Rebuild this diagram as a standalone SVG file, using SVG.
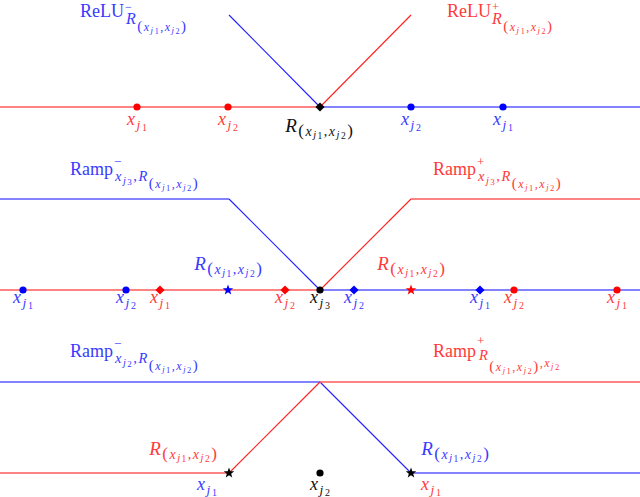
<svg xmlns="http://www.w3.org/2000/svg" xmlns:xlink="http://www.w3.org/1999/xlink" width="640" height="497" viewBox="0 0 640 497">
<style>
text{font-family:"Liberation Serif","Times New Roman",serif;font-size:18px}
.i{font-style:italic}
.s{letter-spacing:1.5px}
.b{fill:#3a3aff}
.r{fill:#ff3a3a}
.k{fill:#111}
.hb{stroke:#5a5aff;stroke-width:1.5;fill:none}
.hr{stroke:#ff5a5a;stroke-width:1.5;fill:none}
.db{stroke:#2020ff;stroke-width:1.1;fill:none}
.dr{stroke:#ff2020;stroke-width:1.1;fill:none}
</style>
<defs>
<circle id="dot" r="3.6"/>
<path id="dia" d="M0,-4.6 L4.6,0 0,4.6 -4.6,0Z"/>
<path id="star" d="M0,-5.5 L1.35,-1.86 5.23,-1.7 2.19,0.71 3.23,4.45 0,2.3 -3.23,4.45 -2.19,0.71 -5.23,-1.7 -1.35,-1.86Z"/>
</defs>
<g id="connectors">
<path class="hr" d="M0,107H320"/>
<path class="hb" d="M320,107H640"/>
<path class="db" d="M229,15L320,107"/>
<path class="dr" d="M320,107L411,15"/>
<path class="hb" d="M0,199H229"/>
<path class="db" d="M229,199L320,290"/>
<path class="hb" d="M320,290H640"/>
<path class="hr" d="M0,290H320"/>
<path class="dr" d="M320,290L411,199"/>
<path class="hr" d="M411,199H640"/>
<path class="hb" d="M0,382H320"/>
<path class="db" d="M320,382L411,473"/>
<path class="hb" d="M411,473H640"/>
<path class="hr" d="M0,473H229"/>
<path class="dr" d="M229,473L320,382"/>
<path class="hr" d="M320,382H640"/>
</g>
<g id="panel1">
<g id="relu-minus"><text class="b" x="80" y="17">ReLU<tspan x="125" y="11" font-size="12">−</tspan><tspan class="i s" x="126" y="24" font-size="16">R</tspan><tspan class="s" font-size="15" y="31">(</tspan><tspan class="i s" font-size="12">x</tspan><tspan class="i s" font-size="9" y="33">j</tspan><tspan class="s" font-size="8" y="34">1</tspan><tspan class="s" font-size="12" y="31">,</tspan><tspan class="i s" font-size="12">x</tspan><tspan class="i s" font-size="9" y="33">j</tspan><tspan class="s" font-size="8" y="34">2</tspan><tspan font-size="15" y="31">)</tspan></text></g>
<g id="relu-plus"><text class="r" x="447" y="17">ReLU<tspan x="492" y="11" font-size="12">+</tspan><tspan class="i s" x="492" y="24" font-size="16">R</tspan><tspan class="s" font-size="15" y="31">(</tspan><tspan class="i s" font-size="12">x</tspan><tspan class="i s" font-size="9" y="33">j</tspan><tspan class="s" font-size="8" y="34">1</tspan><tspan class="s" font-size="12" y="31">,</tspan><tspan class="i s" font-size="12">x</tspan><tspan class="i s" font-size="9" y="33">j</tspan><tspan class="s" font-size="8" y="34">2</tspan><tspan font-size="15" y="31">)</tspan></text></g>
<g id="p1-r1"><use xlink:href="#dot" x="137" y="107" fill="#ff0000"/><text class="r" x="137" y="125" text-anchor="middle"><tspan class="i s">x</tspan><tspan class="i s" font-size="13.5" dy="4">j</tspan><tspan font-size="10" dy="2">1</tspan></text></g>
<g id="p1-r2"><use xlink:href="#dot" x="228" y="107" fill="#ff0000"/><text class="r" x="228" y="125" text-anchor="middle"><tspan class="i s">x</tspan><tspan class="i s" font-size="13.5" dy="4">j</tspan><tspan font-size="10" dy="2">2</tspan></text></g>
<g id="p1-R"><use xlink:href="#dia" x="320" y="107" fill="#000"/><text class="k" x="319" y="132" text-anchor="middle"><tspan class="i s" font-size="19">R</tspan><tspan class="s" font-size="17" dy="4">(</tspan><tspan class="i s" font-size="14">x</tspan><tspan class="i s" font-size="10.5" dy="2">j</tspan><tspan class="s" font-size="9.5" dy="1">1</tspan><tspan class="s" font-size="14" dy="-3">,</tspan><tspan class="i s" font-size="14">x</tspan><tspan class="i s" font-size="10.5" dy="2">j</tspan><tspan class="s" font-size="9.5" dy="1">2</tspan><tspan font-size="17" dy="-3">)</tspan></text></g>
<g id="p1-b2"><use xlink:href="#dot" x="411" y="107" fill="#0000ff"/><text class="b" x="411" y="125" text-anchor="middle"><tspan class="i s">x</tspan><tspan class="i s" font-size="13.5" dy="4">j</tspan><tspan font-size="10" dy="2">2</tspan></text></g>
<g id="p1-b1"><use xlink:href="#dot" x="503" y="107" fill="#0000ff"/><text class="b" x="503" y="125" text-anchor="middle"><tspan class="i s">x</tspan><tspan class="i s" font-size="13.5" dy="4">j</tspan><tspan font-size="10" dy="2">1</tspan></text></g>
</g>
<g id="panel2">
<g id="ramp-minus-1"><text class="b" x="70" y="175">Ramp<tspan x="114" y="166" font-size="13">−</tspan><tspan class="i s" x="115" y="181" font-size="14.5">x</tspan><tspan class="i s" font-size="10.5" y="184">j</tspan><tspan class="s" font-size="9" y="185">3</tspan><tspan class="s" font-size="14.5" y="181">,</tspan><tspan class="i s" font-size="14.5">R</tspan><tspan class="s" font-size="15" y="188">(</tspan><tspan class="i s" font-size="12">x</tspan><tspan class="i s" font-size="8.5" y="190">j</tspan><tspan class="s" font-size="8.5" y="191">1</tspan><tspan class="s" font-size="12" y="188">,</tspan><tspan class="i s" font-size="12">x</tspan><tspan class="i s" font-size="8.5" y="190">j</tspan><tspan class="s" font-size="8.5" y="191">2</tspan><tspan font-size="15" y="188">)</tspan></text></g>
<g id="ramp-plus-1"><text class="r" x="433" y="175">Ramp<tspan x="477" y="166" font-size="13">+</tspan><tspan class="i s" x="478" y="181" font-size="14.5">x</tspan><tspan class="i s" font-size="10.5" y="184">j</tspan><tspan class="s" font-size="9" y="185">3</tspan><tspan class="s" font-size="14.5" y="181">,</tspan><tspan class="i s" font-size="14.5">R</tspan><tspan class="s" font-size="15" y="188">(</tspan><tspan class="i s" font-size="12">x</tspan><tspan class="i s" font-size="8.5" y="190">j</tspan><tspan class="s" font-size="8.5" y="191">1</tspan><tspan class="s" font-size="12" y="188">,</tspan><tspan class="i s" font-size="12">x</tspan><tspan class="i s" font-size="8.5" y="190">j</tspan><tspan class="s" font-size="8.5" y="191">2</tspan><tspan font-size="15" y="188">)</tspan></text></g>
<g id="p2-b1"><use xlink:href="#dot" x="23" y="290" fill="#0000ff"/><text class="b" x="23" y="303" text-anchor="middle"><tspan class="i s">x</tspan><tspan class="i s" font-size="13.5" dy="4">j</tspan><tspan font-size="10" dy="2">1</tspan></text></g>
<g id="p2-b2"><use xlink:href="#dot" x="126" y="290" fill="#0000ff"/><text class="b" x="126" y="303" text-anchor="middle"><tspan class="i s">x</tspan><tspan class="i s" font-size="13.5" dy="4">j</tspan><tspan font-size="10" dy="2">2</tspan></text></g>
<g id="p2-r1"><use xlink:href="#dia" x="160" y="290" fill="#ff0000"/><text class="r" x="160" y="303" text-anchor="middle"><tspan class="i s">x</tspan><tspan class="i s" font-size="13.5" dy="4">j</tspan><tspan font-size="10" dy="2">1</tspan></text></g>
<g id="p2-bR"><use xlink:href="#star" x="228" y="290" fill="#0000ff"/><text class="b" x="228" y="270" text-anchor="middle"><tspan class="i s" font-size="19">R</tspan><tspan class="s" font-size="17" dy="4">(</tspan><tspan class="i s" font-size="14">x</tspan><tspan class="i s" font-size="10.5" dy="2">j</tspan><tspan class="s" font-size="9.5" dy="1">1</tspan><tspan class="s" font-size="14" dy="-3">,</tspan><tspan class="i s" font-size="14">x</tspan><tspan class="i s" font-size="10.5" dy="2">j</tspan><tspan class="s" font-size="9.5" dy="1">2</tspan><tspan font-size="17" dy="-3">)</tspan></text></g>
<g id="p2-r2"><use xlink:href="#dia" x="285" y="290" fill="#ff0000"/><text class="r" x="285" y="303" text-anchor="middle"><tspan class="i s">x</tspan><tspan class="i s" font-size="13.5" dy="4">j</tspan><tspan font-size="10" dy="2">2</tspan></text></g>
<g id="p2-k3"><use xlink:href="#dot" x="320" y="290" fill="#000"/><text class="k" x="320" y="303" text-anchor="middle"><tspan class="i s">x</tspan><tspan class="i s" font-size="13.5" dy="4">j</tspan><tspan font-size="10" dy="2">3</tspan></text></g>
<g id="p2-b2r"><use xlink:href="#dia" x="354" y="290" fill="#0000ff"/><text class="b" x="354" y="303" text-anchor="middle"><tspan class="i s">x</tspan><tspan class="i s" font-size="13.5" dy="4">j</tspan><tspan font-size="10" dy="2">2</tspan></text></g>
<g id="p2-rR"><use xlink:href="#star" x="411" y="290" fill="#ff0000"/><text class="r" x="411" y="270" text-anchor="middle"><tspan class="i s" font-size="19">R</tspan><tspan class="s" font-size="17" dy="4">(</tspan><tspan class="i s" font-size="14">x</tspan><tspan class="i s" font-size="10.5" dy="2">j</tspan><tspan class="s" font-size="9.5" dy="1">1</tspan><tspan class="s" font-size="14" dy="-3">,</tspan><tspan class="i s" font-size="14">x</tspan><tspan class="i s" font-size="10.5" dy="2">j</tspan><tspan class="s" font-size="9.5" dy="1">2</tspan><tspan font-size="17" dy="-3">)</tspan></text></g>
<g id="p2-b1r"><use xlink:href="#dia" x="480" y="290" fill="#0000ff"/><text class="b" x="480" y="303" text-anchor="middle"><tspan class="i s">x</tspan><tspan class="i s" font-size="13.5" dy="4">j</tspan><tspan font-size="10" dy="2">1</tspan></text></g>
<g id="p2-r2r"><use xlink:href="#dot" x="514" y="290" fill="#ff0000"/><text class="r" x="514" y="303" text-anchor="middle"><tspan class="i s">x</tspan><tspan class="i s" font-size="13.5" dy="4">j</tspan><tspan font-size="10" dy="2">2</tspan></text></g>
<g id="p2-r1r"><use xlink:href="#dot" x="617" y="290" fill="#ff0000"/><text class="r" x="617" y="303" text-anchor="middle"><tspan class="i s">x</tspan><tspan class="i s" font-size="13.5" dy="4">j</tspan><tspan font-size="10" dy="2">1</tspan></text></g>
</g>
<g id="panel3">
<g id="ramp-minus-2"><text class="b" x="70" y="357">Ramp<tspan x="114" y="348" font-size="13">−</tspan><tspan class="i s" x="115" y="363" font-size="14.5">x</tspan><tspan class="i s" font-size="10.5" y="366">j</tspan><tspan class="s" font-size="9" y="367">2</tspan><tspan class="s" font-size="14.5" y="363">,</tspan><tspan class="i s" font-size="14.5">R</tspan><tspan class="s" font-size="15" y="370">(</tspan><tspan class="i s" font-size="12">x</tspan><tspan class="i s" font-size="8.5" y="372">j</tspan><tspan class="s" font-size="8.5" y="373">1</tspan><tspan class="s" font-size="12" y="370">,</tspan><tspan class="i s" font-size="12">x</tspan><tspan class="i s" font-size="8.5" y="372">j</tspan><tspan class="s" font-size="8.5" y="373">2</tspan><tspan font-size="15" y="370">)</tspan></text></g>
<g id="ramp-plus-2"><text class="r" x="433" y="357">Ramp<tspan x="477" y="345" font-size="13">+</tspan><tspan class="i s" x="479" y="360" font-size="14.5">R</tspan><tspan class="s" font-size="15" y="371">(</tspan><tspan class="i s" font-size="12">x</tspan><tspan class="i s" font-size="8.5" y="373">j</tspan><tspan class="s" font-size="8.5" y="374">1</tspan><tspan class="s" font-size="12" y="371">,</tspan><tspan class="i s" font-size="12">x</tspan><tspan class="i s" font-size="8.5" y="373">j</tspan><tspan class="s" font-size="8.5" y="374">2</tspan><tspan class="s" font-size="15" y="371">)</tspan><tspan class="s" font-size="12" y="367">,</tspan><tspan class="i s" font-size="12">x</tspan><tspan class="i s" font-size="8.5" y="369">j</tspan><tspan font-size="8.5" y="370">2</tspan></text></g>
<g id="p3-s1"><use xlink:href="#star" x="229" y="473" fill="#000"/><text class="r" x="183" y="455" text-anchor="middle"><tspan class="i s" font-size="19">R</tspan><tspan class="s" font-size="17" dy="4">(</tspan><tspan class="i s" font-size="14">x</tspan><tspan class="i s" font-size="10.5" dy="2">j</tspan><tspan class="s" font-size="9.5" dy="1">1</tspan><tspan class="s" font-size="14" dy="-3">,</tspan><tspan class="i s" font-size="14">x</tspan><tspan class="i s" font-size="10.5" dy="2">j</tspan><tspan class="s" font-size="9.5" dy="1">2</tspan><tspan font-size="17" dy="-3">)</tspan></text><text class="b" x="207" y="490" text-anchor="middle"><tspan class="i s">x</tspan><tspan class="i s" font-size="13.5" dy="4">j</tspan><tspan font-size="10" dy="2">1</tspan></text></g>
<g id="p3-k2"><use xlink:href="#dot" x="320" y="473" fill="#000"/><text class="k" x="320" y="490" text-anchor="middle"><tspan class="i s">x</tspan><tspan class="i s" font-size="13.5" dy="4">j</tspan><tspan font-size="10" dy="2">2</tspan></text></g>
<g id="p3-s2"><use xlink:href="#star" x="411" y="473" fill="#000"/><text class="b" x="455" y="455" text-anchor="middle"><tspan class="i s" font-size="19">R</tspan><tspan class="s" font-size="17" dy="4">(</tspan><tspan class="i s" font-size="14">x</tspan><tspan class="i s" font-size="10.5" dy="2">j</tspan><tspan class="s" font-size="9.5" dy="1">1</tspan><tspan class="s" font-size="14" dy="-3">,</tspan><tspan class="i s" font-size="14">x</tspan><tspan class="i s" font-size="10.5" dy="2">j</tspan><tspan class="s" font-size="9.5" dy="1">2</tspan><tspan font-size="17" dy="-3">)</tspan></text><text class="r" x="431" y="490" text-anchor="middle"><tspan class="i s">x</tspan><tspan class="i s" font-size="13.5" dy="4">j</tspan><tspan font-size="10" dy="2">1</tspan></text></g>
</g>
</svg>
